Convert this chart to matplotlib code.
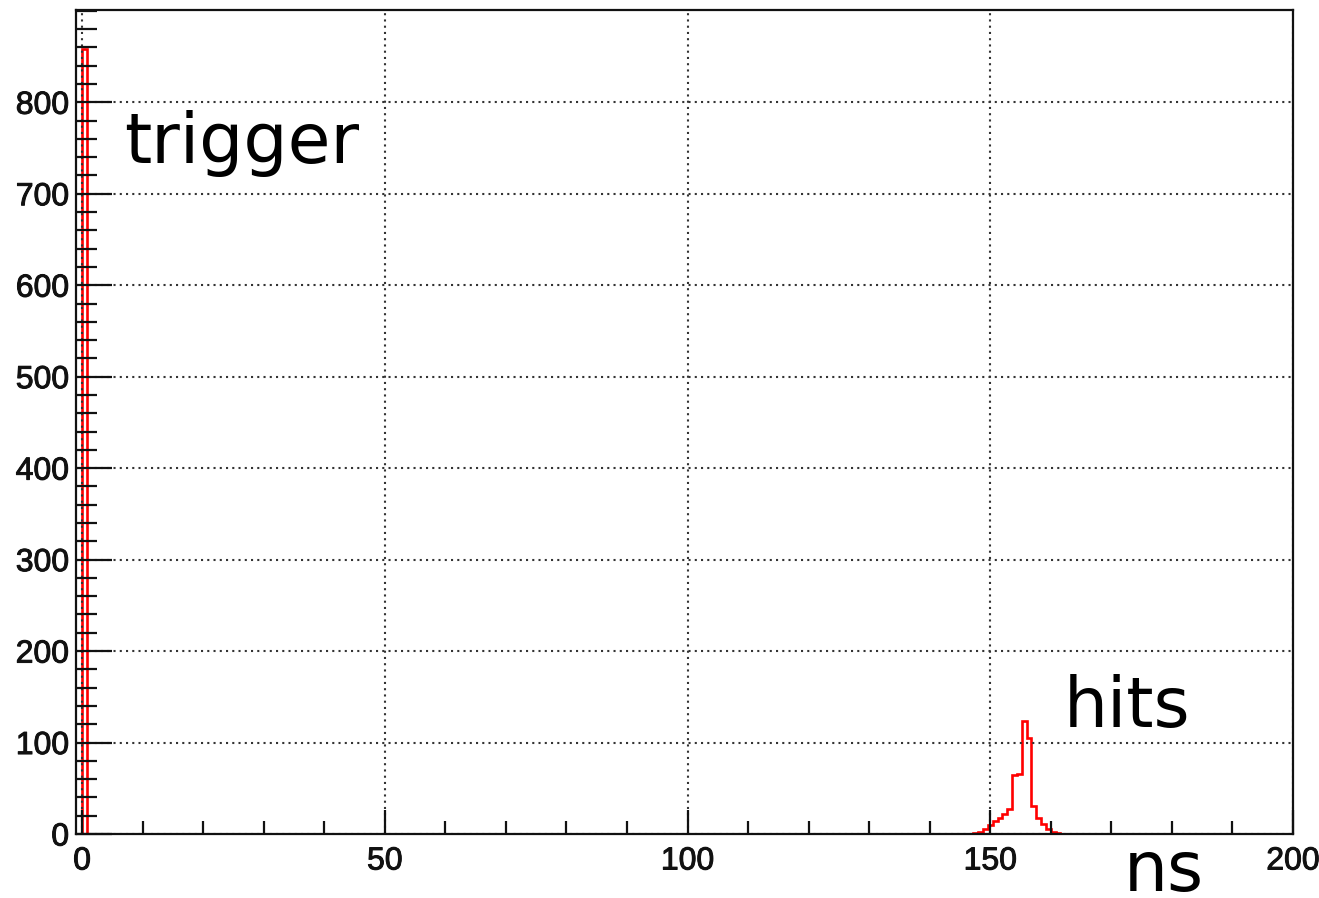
import numpy as np
import matplotlib
matplotlib.use("Agg")
import matplotlib.pyplot as plt
import matplotlib.patheffects as pe
from matplotlib.ticker import MultipleLocator

# Timing histogram: 0.8 ns bins from 0 to 200 ns
bin_width = 0.8

# trigger peak (bin index -> counts)
trigger_first_bin = 0
trigger_counts = [858]

# hit peak around 155 ns (consecutive bins starting at hit_first_bin)
hit_first_bin = 184
hit_counts = [1, 2, 6, 10, 14, 18, 22, 27, 64, 66, 124, 105, 31, 18, 11, 5, 2, 1]

x_ticks = [0, 50, 100, 150, 200]
y_ticks = [0, 100, 200, 300, 400, 500, 600, 700, 800]

W, H = 1319, 898
fig = plt.figure(figsize=(W / 100, H / 100), dpi=100)
ax = fig.add_axes([76 / W, 1 - 834 / H, (1293 - 76) / W, (834 - 10) / H])

# each non-empty region of the histogram drawn as an outline
peak_max = 0
for first, vals in [(trigger_first_bin, trigger_counts), (hit_first_bin, hit_counts)]:
    vals = np.asarray(vals, dtype=float)
    edges = (first + np.arange(len(vals) + 1)) * bin_width
    ax.stairs(vals, edges, baseline=0, color="#ff0000", linewidth=1.9, zorder=1)
    peak_max = max(peak_max, vals.max())

ax.set_xlim(-1, 200)
ax.set_ylim(0, peak_max * 1.05)

ax.set_xticks(x_ticks)
ax.set_yticks(y_ticks)
ax.xaxis.set_minor_locator(MultipleLocator(10))
ax.yaxis.set_minor_locator(MultipleLocator(20))

label_font = {"family": ["Liberation Sans", "DejaVu Sans"], "size": 23}
heavy = [pe.withStroke(linewidth=0.7, foreground="#111111")]
ax.set_xticklabels([str(v) for v in x_ticks], fontdict=label_font)
ax.set_yticklabels([str(v) for v in y_ticks], fontdict=label_font)
for lab in ax.get_xticklabels() + ax.get_yticklabels():
    lab.set_color("#111111")
    lab.set_path_effects(heavy)

ax.tick_params(axis="y", which="major", direction="in", length=26, width=1.6,
               pad=5, color="#111111")
ax.tick_params(axis="y", which="minor", direction="in", length=15, width=1.6,
               color="#111111")
ax.tick_params(axis="x", which="major", direction="in", length=17, width=1.6,
               pad=9, color="#111111")
ax.tick_params(axis="x", which="minor", direction="in", length=9.5, width=1.6,
               color="#111111")

ax.grid(True, which="major", color="#333333", linestyle=(0, (1, 2)),
        linewidth=1.5)
ax.set_axisbelow(False)

for s in ax.spines.values():
    s.set_linewidth(1.6)
    s.set_color("#111111")
    s.set_zorder(3)

text_font = dict(family="DejaVu Sans", fontsize=50, color="black")
fig.text(124 / W, 1 - 163 / H, "trigger", ha="left", va="baseline", **text_font)
fig.text(1064 / W, 1 - 727 / H, "hits", ha="left", va="baseline", **text_font)
fig.text(1124 / W, 1 - 891 / H, "ns", ha="left", va="baseline", **text_font)

fig.savefig("out.png", dpi=100, facecolor="white")
